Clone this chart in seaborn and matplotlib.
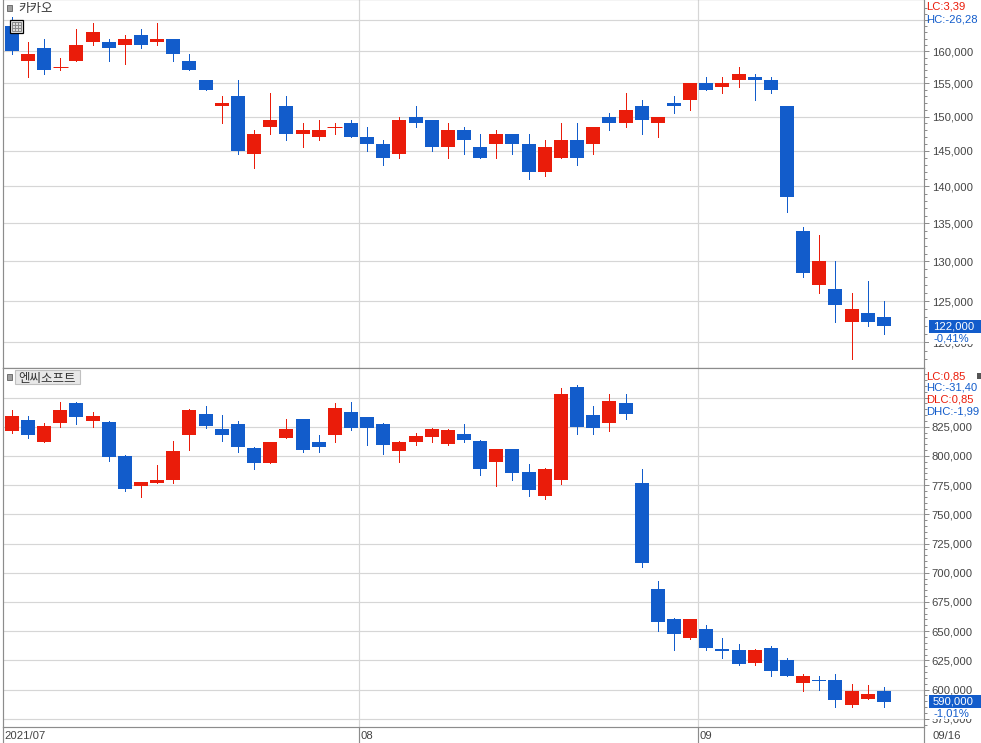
import matplotlib
matplotlib.use("Agg")
import matplotlib.pyplot as plt
from matplotlib.patches import Rectangle
from matplotlib.ticker import FixedLocator, NullFormatter
import pandas as pd
import seaborn as sns

W, H = 981, 743
RED = "#EA1C0A"
BLUE = "#125CCB"
GRID = "#D6D6D6"
AXIS = "#8C8C8C"
TEXT = "#444444"
FONTS = ["Liberation Sans", "Noto Sans CJK KR", "DejaVu Sans"]

# 카카오
kakao_open = [164000, 158500, 160500, 157500, 158500, 161500, 161500, 161000, 162500, 161500,
              162000, 158500, 155500, 151500, 153000, 144500, 148500, 151500, 147500, 147000,
              148500, 149000, 147000, 146000, 144500, 150000, 149500, 145500, 148000, 145500,
              146000, 147500, 146000, 142000, 144000, 146500, 146000, 150000, 149000, 151500,
              149000, 152000, 152500, 155000, 154500, 155500, 156000, 155500, 151500, 134000,
              127000, 126500, 122500, 123500, 123000]
kakao_high = [165500, 161500, 162000, 159000, 163500, 164500, 162000, 162500, 163500, 164500,
              162000, 159500, 155500, 153000, 155500, 148000, 153500, 153000, 149000, 149500,
              149000, 149500, 148500, 146500, 150000, 151500, 149500, 149000, 148500, 147500,
              148000, 147500, 147500, 146500, 149000, 149000, 148500, 150500, 153500, 152500,
              150000, 153000, 155000, 156000, 156000, 157500, 156500, 156000, 151500, 134500,
              133500, 130000, 126000, 127500, 125000]
kakao_low = [159500, 156000, 156500, 157000, 158500, 161000, 158500, 158000, 160500, 161000,
             158500, 157000, 154000, 149000, 144500, 142500, 147500, 146500, 145500, 146500,
             147500, 147000, 145000, 143000, 144000, 148500, 145000, 144000, 144500, 144000,
             144000, 144500, 141000, 141500, 144000, 143000, 144500, 148000, 148500, 147500,
             147000, 150500, 151000, 154000, 153500, 154500, 152500, 153500, 136500, 128000,
             126000, 122500, 118000, 122000, 121000]
kakao_close = [160000, 159500, 157000, 157500, 161000, 163000, 160500, 162000, 161000, 162000,
               159500, 157000, 154000, 152000, 145000, 147500, 149500, 147500, 148000, 148000,
               148500, 147000, 146000, 144000, 149500, 149000, 145500, 148000, 146500, 144000,
               147500, 146000, 142000, 145500, 146500, 144000, 148500, 149000, 151000, 149500,
               150000, 151500, 155000, 154000, 155000, 156500, 155500, 154000, 138500, 128500,
               130000, 124500, 124000, 122500, 122000]

# 엔씨소프트
nc_open = [821000, 831000, 812000, 828000, 845000, 830000, 829000, 800000, 774000, 777000,
           779000, 818000, 836000, 823000, 827000, 807000, 794000, 815000, 832000, 812000,
           818000, 838000, 833000, 827000, 804000, 812000, 816000, 810000, 819000, 813000,
           795000, 806000, 786000, 766000, 779000, 859000, 835000, 828000, 845000, 777000,
           686000, 660000, 644000, 652000, 635000, 634000, 623000, 636000, 625000, 606000,
           608000, 608000, 587000, 592000, 599000]
nc_high = [839000, 834000, 828000, 846000, 846000, 838000, 830000, 801000, 778000, 792000,
           813000, 840000, 843000, 835000, 830000, 808000, 812000, 832000, 832000, 818000,
           845000, 846000, 833000, 828000, 813000, 820000, 824000, 823000, 827000, 814000,
           806000, 806000, 793000, 790000, 858000, 861000, 843000, 853000, 853000, 789000,
           693000, 661000, 660000, 655000, 644000, 639000, 635000, 637000, 627000, 613000,
           612000, 613000, 605000, 604000, 602000]
nc_low = [820000, 815000, 812000, 825000, 827000, 825000, 796000, 770000, 765000, 777000,
          777000, 805000, 824000, 813000, 803000, 789000, 794000, 815000, 803000, 803000,
          812000, 822000, 809000, 802000, 795000, 809000, 812000, 809000, 812000, 784000,
          774000, 779000, 766000, 763000, 776000, 819000, 819000, 821000, 832000, 705000,
          650000, 634000, 643000, 634000, 627000, 621000, 621000, 612000, 612000, 599000,
          600000, 585000, 585000, 592000, 585000]
nc_close = [834000, 818000, 826000, 839000, 833000, 834000, 799000, 772000, 778000, 779000,
            804000, 839000, 826000, 818000, 808000, 794000, 812000, 823000, 805000, 808000,
            841000, 824000, 824000, 809000, 812000, 817000, 823000, 822000, 814000, 789000,
            806000, 785000, 771000, 789000, 853000, 825000, 824000, 847000, 836000, 708000,
            658000, 648000, 660000, 636000, 633000, 622000, 634000, 616000, 612000, 612000,
            607000, 591000, 599000, 596000, 589000]

kakao_ticks = [165000, 160000, 155000, 150000, 145000, 140000, 135000, 130000, 125000, 120000]
kakao_labels = ["", "160,000", "155,000", "150,000", "145,000", "140,000", "135,000", "130,000",
                "125,000", "120,000"]
kakao_minor = [p for p in range(118000, 168000, 1000) if p % 5000]
nc_ticks = [850000, 825000, 800000, 775000, 750000, 725000, 700000, 675000, 650000, 625000,
            600000, 575000]
nc_labels = ["", "825,000", "800,000", "775,000", "750,000", "725,000", "700,000", "675,000",
             "650,000", "625,000", "600,000", "575,000"]
nc_minor = [p for p in range(570000, 875000, 5000) if p % 25000]

month_pos = [-0.576, 21.5, 42.5]
month_labels = ["2021/07", "08", "09"]
last_label = "09/16"


def fx(x):
    return x / W


def fy(y):
    return 1 - y / H


def draw_candles(ax, opens, highs, lows, closes):
    rows_wick, rows_body = [], []
    for i, (o, h, l, c) in enumerate(zip(opens, highs, lows, closes)):
        d = "up" if c >= o else "down"
        rows_wick += [{"i": i, "price": h, "dir": d}, {"i": i, "price": l, "dir": d}]
        rows_body += [{"i": i, "price": o, "dir": d}, {"i": i, "price": c, "dir": d}]
        if o == c:
            ax.hlines(o, i - 0.46, i + 0.46, color=RED, lw=0.72, zorder=3)
    pal = {"up": RED, "down": BLUE}
    sns.lineplot(data=pd.DataFrame(rows_wick), x="i", y="price", hue="dir", units="i",
                 estimator=None, palette=pal, linewidth=0.72, legend=False, ax=ax, zorder=2,
                 solid_capstyle="butt", antialiased=False)
    sns.lineplot(data=pd.DataFrame(rows_body), x="i", y="price", hue="dir", units="i",
                 estimator=None, palette=pal, linewidth=10.0, legend=False, ax=ax, zorder=3,
                 solid_capstyle="butt", antialiased=False)


def style_panel(ax, ticks, labels, minor):
    ax.set_xlim(-0.576, 56.45)
    ax.set_xlabel("")
    ax.set_ylabel("")
    ax.yaxis.tick_right()
    ax.yaxis.set_major_locator(FixedLocator(ticks))
    ax.set_yticklabels(labels)
    ax.yaxis.set_minor_locator(FixedLocator(minor))
    ax.yaxis.set_minor_formatter(NullFormatter())
    ax.tick_params(axis="y", which="major", length=3.6, width=0.72, color=AXIS, pad=2.4,
                   labelsize=8.1, labelcolor=TEXT, right=True)
    ax.tick_params(axis="y", which="minor", length=2.2, width=0.72, color=AXIS, right=True)
    ax.grid(axis="y", which="major", color=GRID, lw=0.85)
    ax.grid(axis="x", visible=False)
    for pos in month_pos[1:]:
        ax.axvline(pos, color=GRID, lw=0.85, zorder=1)
    ax.set_axisbelow(True)
    for side in ["left", "right", "bottom", "top"]:
        ax.spines[side].set_color(AXIS)
        ax.spines[side].set_linewidth(0.85)


sns.set_theme(style="white")
plt.rcParams["font.family"] = FONTS

fig = plt.figure(figsize=(W / 100, H / 100), dpi=100)
left, right = fx(2.5), fx(923.5)
ax_top = fig.add_axes([left, fy(367.5), right - left, fy(-1) - fy(367.5)])
ax_bot = fig.add_axes([left, fy(726.5), right - left, fy(367.5) - fy(726.5)])

draw_candles(ax_top, kakao_open, kakao_high, kakao_low, kakao_close)
ax_top.set_yscale("log")
style_panel(ax_top, kakao_ticks, kakao_labels, kakao_minor)
ax_top.set_ylim(117070, 168460)
ax_top.set_xticks([])

draw_candles(ax_bot, nc_open, nc_high, nc_low, nc_close)
style_panel(ax_bot, nc_ticks, nc_labels, nc_minor)
ax_bot.set_ylim(568400, 875700)
ax_bot.set_xticks(month_pos[1:] + [56.45])
ax_bot.set_xticklabels([])
ax_bot.tick_params(axis="x", length=12, width=0.85, color=AXIS, bottom=True)

# month labels under the lower panel
for pos, lab in zip(month_pos, month_labels):
    ax_bot.annotate(lab, xy=(pos, 0), xycoords=("data", "axes fraction"), xytext=(1.2, -7.0),
                    textcoords="offset points", fontsize=8.1, color=TEXT, ha="left",
                    va="center", annotation_clip=False)
ax_bot.annotate(last_label, xy=(56.45, 0), xycoords=("data", "axes fraction"), xytext=(6.2, -7.0),
                textcoords="offset points", fontsize=8.1, color=TEXT, ha="left", va="center",
                annotation_clip=False)
fig.add_artist(plt.Line2D([fx(2.5), fx(2.5)], [fy(726.5), fy(743)], color=AXIS, lw=0.85))


def box(x0, y0, x1, y1, **kw):
    kw.setdefault("zorder", 10)
    fig.add_artist(Rectangle((fx(x0), fy(y1)), fx(x1 - x0), y1 / H - y0 / H,
                             transform=fig.transFigure, **kw))


def label(x, y, s, color=TEXT, size=8.1, **kw):
    fig.text(fx(x), fy(y), s, color=color, fontsize=size, va="center", ha="left", zorder=12, **kw)


# panel titles
box(7, 5, 11.5, 10.5, facecolor="#A0A0A0", edgecolor="#707070", lw=0.7)
label(18, 9, "카카오", color="#333333", size=9)
box(7, 374, 11.5, 380, facecolor="#A0A0A0", edgecolor="#707070", lw=0.7)
box(14.5, 370.5, 79.5, 384.5, facecolor="#E8E8E8", edgecolor="#C0C0C0", lw=0.8)
label(18, 378.5, "엔씨소프트", color="#333333", size=9)

# table icon
box(9.5, 19.5, 22.5, 32.5, facecolor="#F2F2F2", edgecolor="black", lw=0.9)
box(11.5, 21.5, 20.5, 30.5, facecolor="#DDDDDD", edgecolor="#8A8A8A", lw=0.7)
for xv in [14.5, 17.5]:
    fig.add_artist(plt.Line2D([fx(xv), fx(xv)], [fy(21.5), fy(30.5)], color="#8A8A8A", lw=0.7, zorder=11))
for yv in [24.5, 27.5]:
    fig.add_artist(plt.Line2D([fx(11.5), fx(20.5)], [fy(yv), fy(yv)], color="#8A8A8A", lw=0.7, zorder=11))

# right-hand readouts
label(926.2, 6.5, "LC:3,39", color=RED)
label(926.2, 19, "HC:-26,28", color=BLUE)
label(926.2, 376, "LC:0,85", color=RED)
label(926.2, 388, "HC:-31,40", color=BLUE)
label(926.2, 400, "DLC:0,85", color=RED)
label(926.2, 412, "DHC:-1,99", color=BLUE)
box(977, 373, 981, 379, facecolor="#555555", edgecolor="none")

box(929, 320, 981, 333, facecolor=BLUE, edgecolor="none")
label(933, 326.5, "122,000", color="white")
box(929, 333, 975, 344, facecolor="white", edgecolor="none")
label(933, 338.5, "-0,41%", color=BLUE)

box(929, 695, 981, 708, facecolor=BLUE, edgecolor="none")
label(933, 701.5, "590,000", color="white")
box(929, 708, 975, 719, facecolor="white", edgecolor="none")
label(933, 713.5, "-1,01%", color=BLUE)

fig.savefig("out.png", dpi=100, facecolor="white")
